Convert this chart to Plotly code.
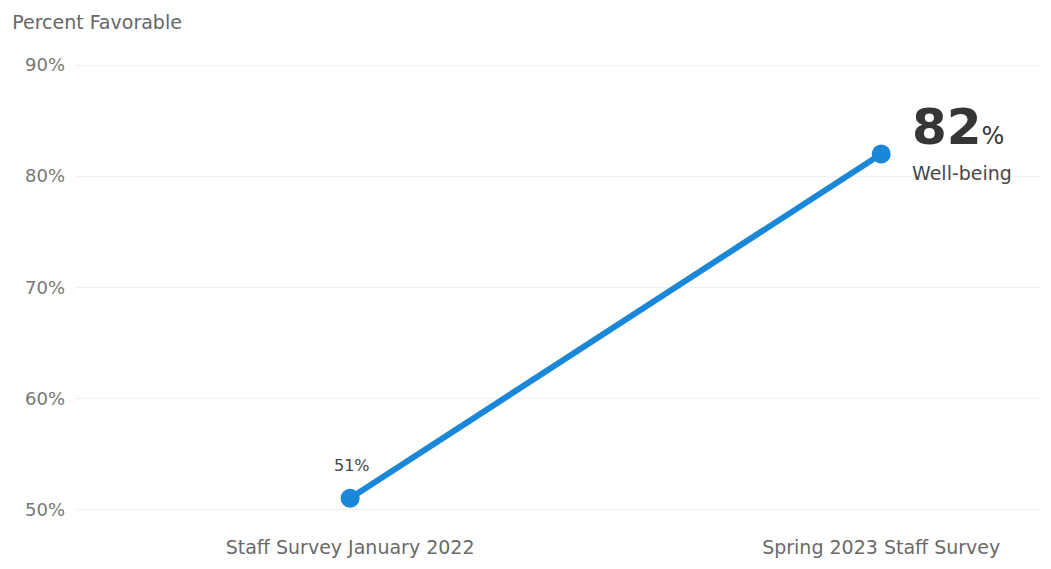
import plotly.graph_objects as go

categories = ["Staff Survey January 2022", "Spring 2023 Staff Survey"]
values = [51, 82]
series_name = "Well-being"
y_ticks = [50, 60, 70, 80, 90]
y_tick_labels = ["50%", "60%", "70%", "80%", "90%"]

FONT = "DejaVu Sans"
BLUE = "#1a87d9"

# page body has an 8px margin, so the figure is laid out 8px smaller/offset
W, H = 1040, 558

fig = go.Figure()
fig.add_trace(go.Scatter(
    x=categories, y=values, mode="lines+markers",
    line=dict(color=BLUE, width=6),
    marker=dict(color=BLUE, size=19),
    name=series_name, showlegend=False, hoverinfo="skip",
))

# value label for first point
fig.add_annotation(x=categories[0], y=values[0], text=f"{values[0]}%",
                   showarrow=False, yshift=33, xshift=2,
                   font=dict(family=FONT, size=16, color="#444444"))
# big value label for last point
fig.add_annotation(x=categories[1], y=values[1],
                   text=f"<b>{values[1]}</b><span style='font-size:24px'>%</span>",
                   showarrow=False, xanchor="left", yanchor="middle",
                   xshift=29, yshift=27,
                   font=dict(family=FONT, size=50, color="#363636"))
fig.add_annotation(x=categories[1], y=values[1], text=series_name,
                   showarrow=False, xanchor="left", yanchor="middle",
                   xshift=29, yshift=-19,
                   font=dict(family=FONT, size=19, color="#484848"))

fig.update_layout(
    width=W, height=H,
    margin=dict(l=67, r=8, t=46, b=33),
    paper_bgcolor="white", plot_bgcolor="white",
    font=dict(family=FONT, color="#777777"),
    title=dict(text="Percent Favorable", x=0.004, xanchor="left",
               y=0.975, yanchor="middle", xref="container",
               font=dict(family=FONT, size=19, color="#666666")),
)
fig.update_xaxes(range=[-0.518, 1.299], showgrid=False, zeroline=False,
                 showline=False, ticks="", tickfont=dict(family=FONT, size=19, color="#6a6a6a"),
                 ticklabelstandoff=8)
fig.update_yaxes(range=[48.5, 91], tickvals=y_ticks, ticktext=y_tick_labels,
                 showgrid=True, gridcolor="#f0f0f0", gridwidth=1, zeroline=False,
                 showline=False, ticks="", tickfont=dict(family=FONT, size=18, color="#777777"),
                 ticklabelstandoff=9)

fig.write_html("out.html")
